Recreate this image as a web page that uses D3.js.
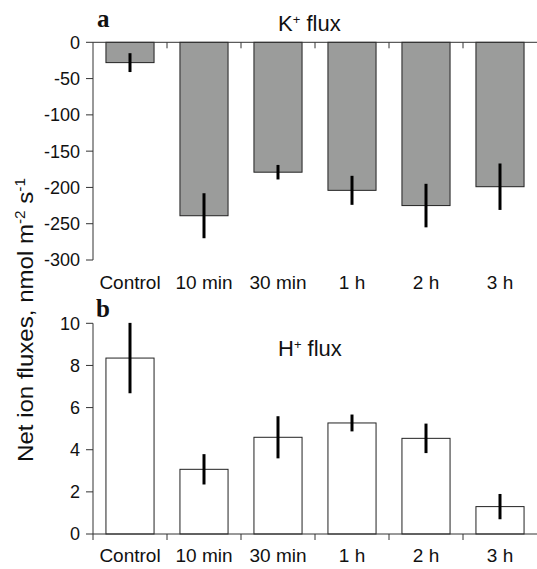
<!DOCTYPE html>
<html>
<head>
<meta charset="utf-8">
<script src="https://cdn.jsdelivr.net/npm/d3@7"></script>
<style>
  body { margin: 0; background: #fff; }
  svg { display: block; font-family: "Liberation Sans", Arial, sans-serif; }
</style>
</head>
<body>
<svg id="chart" width="537" height="569"></svg>
<script>
var categories = ["Control", "10 min", "30 min", "1 h", "2 h", "3 h"];
var kFlux = [-28, -239, -179, -204, -225, -199];
var kErr = [13, 31, 10, 20, 30, 32];
var hFlux = [8.35, 3.07, 4.59, 5.27, 4.54, 1.3];
var hErr = [1.67, 0.72, 1.0, 0.4, 0.7, 0.6];
var kTicks = [0, -50, -100, -150, -200, -250, -300];
var hTicks = [0, 2, 4, 6, 8, 10];

var svg = d3.select("#chart"),
    left = 93, right = 537;

var x = d3.scaleBand()
    .domain(categories)
    .range([left, right])
    .paddingInner(0.35)
    .paddingOuter(0.175);

// band boundaries for the small ticks between groups
var step = x.step();
var bounds = d3.range(categories.length + 1).map(function(i) { return left + i * step; });

function bars(g, data, y, fill) {
    g.selectAll("rect")
        .data(data)
        .enter()
        .append("rect")
        .attr("x", function(d, i) { return x(categories[i]); })
        .attr("y", function(d) { return Math.min(y(d), y(0)); })
        .attr("width", x.bandwidth())
        .attr("height", function(d) { return Math.abs(y(d) - y(0)); })
        .attr("fill", fill)
        .attr("stroke", "#222")
        .attr("stroke-width", 1);
}

function errs(g, data, err, y) {
    g.selectAll("line")
        .data(data)
        .enter()
        .append("line")
        .attr("x1", function(d, i) { return x(categories[i]) + x.bandwidth() / 2; })
        .attr("x2", function(d, i) { return x(categories[i]) + x.bandwidth() / 2; })
        .attr("y1", function(d, i) { return y(d + err[i]); })
        .attr("y2", function(d, i) { return y(d - err[i]); })
        .attr("stroke", "#000")
        .attr("stroke-width", 3);
}

function axes(y, ticks, y0, yTop, yBottom, extra) {
    var g = svg.append("g").attr("stroke", "#333").attr("stroke-width", 1);
    g.append("line").attr("x1", left).attr("x2", right).attr("y1", y0).attr("y2", y0);
    g.append("line").attr("x1", left).attr("x2", left).attr("y1", yTop).attr("y2", yBottom + extra);
    g.selectAll(".xt").data(bounds.slice(1, -1)).enter().append("line")
        .attr("x1", function(d) { return d; }).attr("x2", function(d) { return d; })
        .attr("y1", y0).attr("y2", y0 + 6);
    g.selectAll(".yt").data(ticks).enter().append("line")
        .attr("x1", left - 7).attr("x2", left)
        .attr("y1", function(d) { return y(d); }).attr("y2", function(d) { return y(d); });

    svg.append("g")
        .selectAll("text")
        .data(ticks)
        .enter()
        .append("text")
        .attr("x", 80)
        .attr("y", function(d) { return y(d); })
        .attr("dy", "0.36em")
        .attr("text-anchor", "end")
        .attr("font-size", 18)
        .attr("fill", "#111")
        .text(function(d) { return d; });
}

function catLabels(yy) {
    svg.append("g")
        .selectAll("text")
        .data(categories)
        .enter()
        .append("text")
        .attr("x", function(d) { return x(d) + x.bandwidth() / 2; })
        .attr("y", yy)
        .attr("text-anchor", "middle")
        .attr("font-size", 19)
        .attr("fill", "#111")
        .text(function(d) { return d; });
}

// ---- panel a: K+ ----
var ya = d3.scaleLinear().domain([-300, 0]).range([260, 42.3]);
bars(svg.append("g"), kFlux, ya, "#9b9c9b");
errs(svg.append("g"), kFlux, kErr, ya);
axes(ya, kTicks, ya(0), ya(0), ya(-300), 0);
catLabels(288.5);

// ---- panel b: H+ ----
var yb = d3.scaleLinear().domain([0, 10]).range([534, 323.3]);
bars(svg.append("g"), hFlux, yb, "#fff");
errs(svg.append("g"), hFlux, hErr, yb);
axes(yb, hTicks, yb(0), yb(10), yb(0), 6);
catLabels(562);

// ---- titles and labels ----
function ionTitle(ion, tx, ty) {
    var t = svg.append("text")
        .attr("x", tx).attr("y", ty)
        .attr("font-size", 22)
        .attr("fill", "#111");
    t.append("tspan").text(ion);
    t.append("tspan").attr("font-size", 13).attr("dy", -7).text("+");
    t.append("tspan").attr("dy", 7).text(" flux");
}
ionTitle("K", 278, 31);
ionTitle("H", 278, 356);

svg.append("text").attr("x", 97).attr("y", 27)
    .attr("font-family", "Liberation Serif, Times New Roman, serif")
    .attr("font-weight", "bold").attr("font-size", 25).attr("fill", "#111").text("a");
svg.append("text").attr("x", 96).attr("y", 317)
    .attr("font-family", "Liberation Serif, Times New Roman, serif")
    .attr("font-weight", "bold").attr("font-size", 25).attr("fill", "#111").text("b");

var yl = svg.append("text")
    .attr("transform", "translate(33,320) rotate(-90)")
    .attr("text-anchor", "middle")
    .attr("font-size", 22)
    .attr("textLength", 284)
    .attr("lengthAdjust", "spacingAndGlyphs")
    .attr("fill", "#111");
yl.append("tspan").text("Net ion fluxes, nmol m");
yl.append("tspan").attr("font-size", 14).attr("dy", -8).text("-2");
yl.append("tspan").attr("dy", 8).text(" s");
yl.append("tspan").attr("font-size", 14).attr("dy", -8).text("-1");
</script>
</body>
</html>
